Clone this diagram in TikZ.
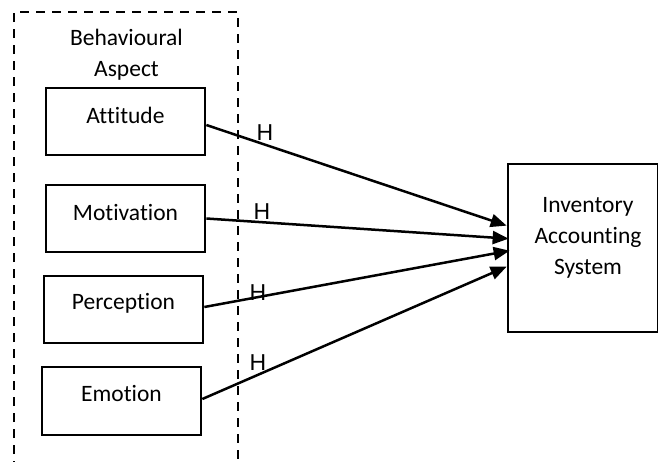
\documentclass[tikz,border=0pt]{standalone}
\usepackage{fontspec}
\setmainfont[Ligatures={NoCommon}]{Carlito}
\newfontfamily\hfont{Liberation Sans}
\usetikzlibrary{arrows.meta}
\begin{document}
\begin{tikzpicture}[x=1pt,y=-1pt,
  txt/.style={font=\fontsize{23.5}{31}\selectfont, inner sep=0pt, align=center},
  boxa/.style={draw, line width=2.7pt, rectangle, inner sep=0pt},
  hlab/.style={font=\hfont\fontsize{23}{28}\selectfont, inner sep=0pt},
  conn/.style={line width=2.5pt, -{Triangle[length=16pt,width=13pt]}},
  outline/.style={line width=2.7pt, dash pattern=on 9pt off 7pt}]
\useasboundingbox (0,0) rectangle (658,461);
% dashed grouping frame (open at the bottom)
\coordinate (fbl) at (14,470);
\coordinate (ftl) at (14,12);
\coordinate (ftr) at (238,12);
\coordinate (fbr) at (238,470);
\draw[outline] (fbl) -- (ftl) -- (ftr) -- (fbr);
\node[txt] (beh) at (126.5,54.5) {Behavioural\\Aspect};
% boxes
\node[boxa, minimum width=159pt, minimum height=67pt] (att) at (125.5,121.5) {};
\node[txt] (attl) at (125.5,115) {Attitude};
\node[boxa, minimum width=159pt, minimum height=67pt] (mot) at (125.5,218.5) {};
\node[txt] (motl) at (125.5,212) {Motivation};
\node[boxa, minimum width=159pt, minimum height=67pt] (per) at (123.5,309.5) {};
\node[txt] (perl) at (123.5,303) {Perception};
\node[boxa, minimum width=159pt, minimum height=68pt] (emo) at (121.5,401) {};
\node[txt] (emol) at (121.5,393) {Emotion};
\node[boxa, minimum width=150pt, minimum height=168pt] (ias) at (583,248) {};
\node[txt] (iasl) at (588,238) {Inventory\\Accounting\\System};
% arrow targets on the west side
\coordinate (t1) at ([yshift=-63pt]ias.north west);
\coordinate (t2) at ([yshift=-76pt,xshift=2pt]ias.north west);
\coordinate (t3) at ([yshift=-88pt,xshift=3pt]ias.north west);
\coordinate (t4) at ([yshift=-104pt]ias.north west);
\coordinate (s1) at ([yshift=-3.5pt]att.east);
\draw[conn] (s1) -- (t1);
\draw[conn] (mot.east) -- (t2);
\draw[conn] ([yshift=2.5pt]per.east) -- (t3);
\draw[conn] ([yshift=2pt]emo.east) -- (t4);
% H labels
\node[hlab] (h1) at (265,133) {H};
\node[hlab] (h2) at (262,212) {H};
\node[hlab] (h3) at (258,293) {H};
\node[hlab] (h4) at (258,363) {H};
\end{tikzpicture}
\end{document}
